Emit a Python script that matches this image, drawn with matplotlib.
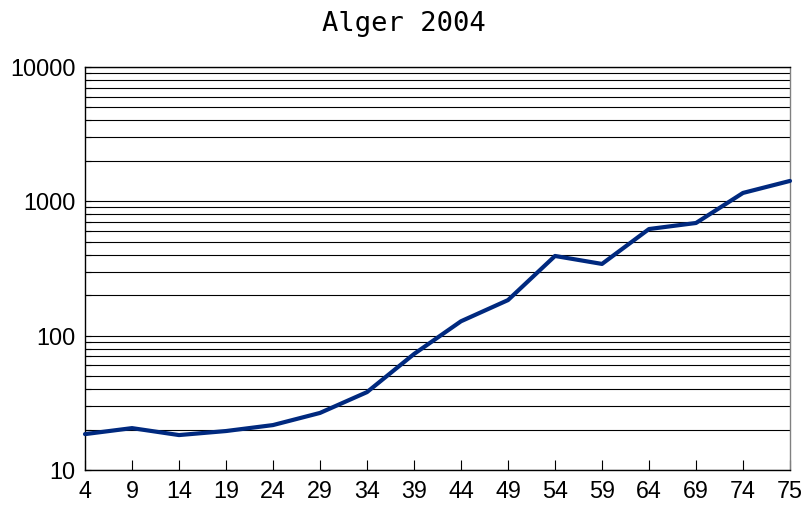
import matplotlib
matplotlib.use("Agg")
import matplotlib.pyplot as plt
from matplotlib.ticker import LogLocator, NullFormatter, FixedLocator, FixedFormatter

categories = ["4", "9", "14", "19", "24", "29", "34", "39", "44", "49",
              "54", "59", "64", "69", "74", "75"]
values = [18.5, 20.5, 18.2, 19.5, 21.6, 26.6, 38, 73, 128, 184,
          392, 342, 622, 690, 1155, 1419]
y_ticks = [10, 100, 1000, 10000]
y_labels = ["10", "100", "1000", "10000"]

fig = plt.figure(figsize=(8.06, 5.09), dpi=100)
ax = fig.add_axes([85/806, 39/509, 705/806, 403/509])

x = list(range(len(categories)))
ax.set_yscale("log")
ax.set_ylim(10, 10000)
ax.set_xlim(0, len(categories) - 1)

ax.yaxis.set_major_locator(FixedLocator(y_ticks))
ax.yaxis.set_major_formatter(FixedFormatter(y_labels))
ax.yaxis.set_minor_locator(LogLocator(base=10, subs=range(2, 10)))
ax.yaxis.set_minor_formatter(NullFormatter())
ax.grid(True, which="both", axis="y", color="black", linewidth=0.8)
ax.set_axisbelow(True)

ax.plot(x, values, color="#00297f", linewidth=3.0, solid_joinstyle="round",
        solid_capstyle="round", zorder=3, clip_on=False)

ax.set_xticks(x)
ax.set_xticklabels(categories)
ax.tick_params(axis="x", direction="in", length=7.5, width=0.8, colors="black",
               labelsize=16.8, pad=7)
ax.tick_params(axis="y", which="major", direction="in", length=4, width=0.8,
               labelsize=16.8, pad=7)
ax.tick_params(axis="y", which="minor", direction="in", length=4, width=0.8)
for lab in ax.get_xticklabels() + ax.get_yticklabels():
    lab.set_fontfamily("Liberation Sans")

ax.spines["left"].set_color("black")
ax.spines["bottom"].set_color("black")
ax.spines["right"].set_color("#808080")
ax.spines["top"].set_color("black")
for s in ax.spines.values():
    s.set_linewidth(1.0)

fig.text(404/806, 1 - 24/509, "Alger 2004", ha="center", va="center",
         fontsize=19.5, family="DejaVu Sans Mono")

fig.savefig("out.png", dpi=100)
